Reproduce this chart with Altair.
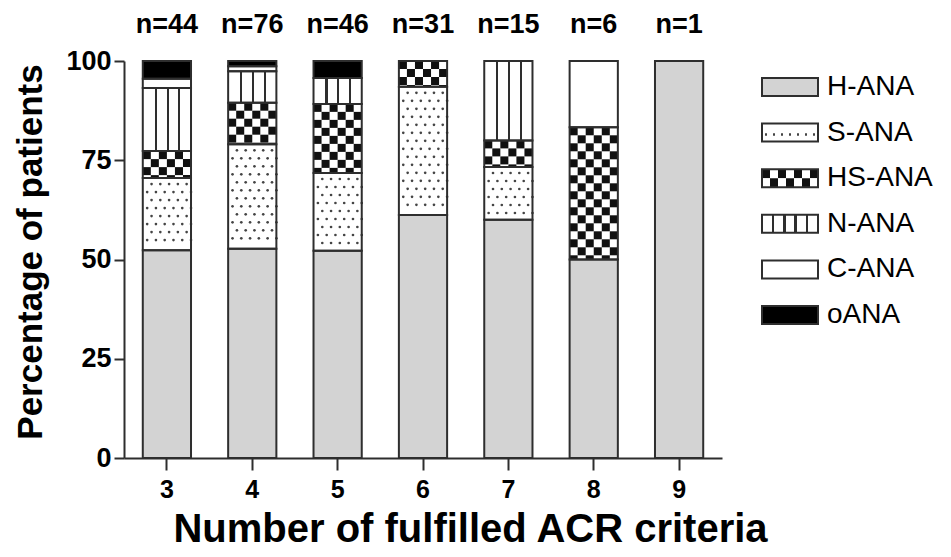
import altair as alt
import pandas as pd

# ---------------- data ----------------
criteria = ["3", "4", "5", "6", "7", "8", "9"]
n_labels = ["n=44", "n=76", "n=46", "n=31", "n=15", "n=6", "n=1"]
series = ["H-ANA", "S-ANA", "HS-ANA", "N-ANA", "C-ANA", "oANA"]

h_ana = [52.3, 52.7, 52.2, 61.2, 60.0, 50.0, 100.0]
s_ana = [18.2, 26.3, 19.6, 32.3, 13.3, 0.0, 0.0]
hs_ana = [6.8, 10.5, 17.4, 6.5, 6.7, 33.3, 0.0]
n_ana = [15.9, 7.9, 6.5, 0.0, 20.0, 0.0, 0.0]
c_ana = [2.3, 1.3, 0.0, 0.0, 0.0, 16.7, 0.0]
o_ana = [4.5, 1.3, 4.3, 0.0, 0.0, 0.0, 0.0]

values = {"H-ANA": h_ana, "S-ANA": s_ana, "HS-ANA": hs_ana,
          "N-ANA": n_ana, "C-ANA": c_ana, "oANA": o_ana}

# ---------------- layout constants ----------------
W, H = 598, 397
PX_PER_PCT = H / 100.0
CELL = 8 / PX_PER_PCT          # checker cell height in % units
DOT_STEP = 8 / PX_PER_PCT      # dot row spacing in % units
FONT = "Liberation Sans"
LINE = "#2e2e2e"
GRAY = "#d3d3d3"

# ---------------- derived tables ----------------
seg_rows = []
for i, c in enumerate(criteria):
    base = 0.0
    for s in series:
        v = values[s][i]
        if v > 0:
            seg_rows.append(dict(criteria=c, series=s, y0=base, y1=base + v))
        base += v
seg = pd.DataFrame(seg_rows)

checker_rows = []
for r in seg[seg.series == "HS-ANA"].itertuples():
    k = 0
    top = r.y1
    while top > r.y0 + 1e-6:
        bot = max(top - CELL, r.y0)
        for col in range(6):
            if (k + col) % 2 == 0:
                checker_rows.append(dict(criteria=r.criteria, col=col, c0=bot, c1=top))
        top = bot
        k += 1
checker = pd.DataFrame(checker_rows)

dot_rows = []
for r in seg[seg.series == "S-ANA"].itertuples():
    k = 0
    yc = r.y1 - 0.75 * DOT_STEP
    while yc > r.y0 + 0.4 * DOT_STEP:
        subs = [2, 4, 6, 8, 10] if k % 2 == 0 else [1, 3, 5, 7, 9, 11]
        for sub in subs:
            dot_rows.append(dict(criteria=r.criteria, sub=sub, yc=yc))
        yc -= DOT_STEP
        k += 1
dots = pd.DataFrame(dot_rows)

labels_df = pd.DataFrame({"criteria": criteria, "label": n_labels,
                          "top": [100.0] * len(criteria)})
legend_df = pd.DataFrame({"series": series})


def GS(o, c):
    return alt.GradientStop(offset=max(0.0, min(1.0, o)), color=c)


def vstripes(centers, half, color, bg="white"):
    stops = [GS(0, bg)]
    for c in centers:
        stops += [GS(c - half, bg), GS(c - half, color), GS(c + half, color), GS(c + half, bg)]
    stops.append(GS(1, bg))
    return alt.LinearGradient(gradient="linear", stops=stops, x1=0, x2=1, y1=0, y2=0)


def cells(n, start_black):
    stops = []
    for k in range(n):
        col = "#111111" if (k % 2 == 0) == start_black else "white"
        stops += [GS(k / n, col), GS((k + 1) / n, col)]
    return alt.LinearGradient(gradient="linear", stops=stops, x1=0, x2=1, y1=0, y2=0)


N_GRAD = vstripes([0.27, 0.515, 0.76], 0.022, LINE)
N_LEG_GRAD = vstripes([0.2, 0.4, 0.6, 0.8], 0.02, LINE)
S_LEG_GRAD = vstripes([(k + 0.5) / 7 for k in range(7)], 0.022, "#444444")

# ---------------- scales / axes ----------------
xscale = alt.Scale(domain=criteria, paddingInner=0.435, paddingOuter=0.22)
yscale = alt.Scale(domain=[0, 100], nice=False, zero=True)

x_axis = alt.Axis(title="Number of fulfilled ACR criteria", labelAngle=0,
                  labelFont=FONT, labelFontSize=25, labelFontWeight="bold",
                  labelColor="black", labelPadding=7,
                  tickSize=12, tickWidth=2, tickColor=LINE,
                  domainColor=LINE, domainWidth=2,
                  titleFont=FONT, titleFontSize=40, titleFontWeight="bold",
                  titleColor="black", titleX=346, titleY=83,
                  titleBaseline="alphabetic", titleAlign="center")
y_axis = alt.Axis(title="Percentage of patients", values=[0, 25, 50, 75, 100],
                  labelFont=FONT, labelFontSize=27, labelFontWeight="bold",
                  labelColor="black", labelPadding=3,
                  tickSize=10, tickWidth=2, tickColor=LINE,
                  domainColor=LINE, domainWidth=2, grid=False,
                  titleFont=FONT, titleFontSize=35, titleFontWeight="bold",
                  titleColor="black", titleAngle=-90, titleX=-94, titleY=H / 2 - 8,
                  titleAlign="center", titleBaseline="middle")


def X():
    return alt.X("criteria:N", scale=xscale, axis=x_axis)


def Y(field):
    return alt.Y(field, scale=yscale, axis=y_axis)


color_scale = alt.Scale(domain=series,
                        range=[GRAY, "white", "white", "white", "white", "#000000"])

base = alt.Chart(seg).mark_rect(strokeWidth=0).encode(
    x=X(), y=Y("y0:Q"), y2="y1:Q",
    color=alt.Color("series:N", scale=color_scale, legend=None))

n_layer = alt.Chart(seg).transform_filter(alt.datum.series == "N-ANA").mark_rect(
    fill=N_GRAD, strokeWidth=0).encode(x=X(), y=Y("y0:Q"), y2="y1:Q")

check_layer = alt.Chart(checker).mark_rect(fill="#111111", strokeWidth=0).encode(
    x=X(), y=Y("c0:Q"), y2="c1:Q",
    xOffset=alt.XOffset("col:O", scale=alt.Scale(domain=list(range(6)),
                                                 paddingInner=0, paddingOuter=0)))

dot_layer = alt.Chart(dots).mark_circle(size=7, color="#444444", opacity=1).encode(
    x=X(), y=Y("yc:Q"),
    xOffset=alt.XOffset("sub:O", scale=alt.Scale(domain=list(range(12)),
                                                 paddingInner=0, paddingOuter=0)))

outline = alt.Chart(seg).mark_rect(fillOpacity=0, stroke=LINE, strokeWidth=2).encode(
    x=X(), y=Y("y0:Q"), y2="y1:Q")

text_layer = alt.Chart(labels_df).mark_text(
    font=FONT, fontSize=27, fontWeight="bold", color="black",
    baseline="alphabetic", dy=-28).encode(x=X(), y=Y("top:Q"), text="label:N")

main = alt.layer(base, n_layer, check_layer, dot_layer, outline, text_layer
                 ).resolve_scale(xOffset="independent")

# ---------------- hand-made legend ----------------
LEG_X0, LEG_X1, LEG_TX = 638, 694, 703
ly = alt.Y("series:N", sort=series, axis=None,
           scale=alt.Scale(range=[3.2, 276.8], paddingInner=0, paddingOuter=0))
lx = dict(x=alt.value(LEG_X0), x2=alt.value(LEG_X1))

leg_base = alt.Chart(legend_df).mark_rect(height=18, strokeWidth=0).encode(
    y=ly, color=alt.Color("series:N", scale=color_scale, legend=None), **lx)
leg_n = alt.Chart(legend_df).transform_filter(alt.datum.series == "N-ANA").mark_rect(
    height=18, fill=N_LEG_GRAD, strokeWidth=0).encode(y=ly, **lx)
leg_s = alt.Chart(legend_df).transform_filter(alt.datum.series == "S-ANA").mark_rect(
    height=2.5, yOffset=2, fill=S_LEG_GRAD, strokeWidth=0).encode(y=ly, **lx)
leg_hs1 = alt.Chart(legend_df).transform_filter(alt.datum.series == "HS-ANA").mark_rect(
    height=9, yOffset=-4.5, fill=cells(7, True), strokeWidth=0).encode(y=ly, **lx)
leg_hs2 = alt.Chart(legend_df).transform_filter(alt.datum.series == "HS-ANA").mark_rect(
    height=9, yOffset=4.5, fill=cells(7, False), strokeWidth=0).encode(y=ly, **lx)
leg_out = alt.Chart(legend_df).mark_rect(height=18, fillOpacity=0, stroke=LINE,
                                         strokeWidth=2).encode(y=ly, **lx)
leg_text = alt.Chart(legend_df).mark_text(
    font=FONT, fontSize=28, align="left", baseline="middle", color="black").encode(
    y=ly, x=alt.value(LEG_TX), text="series:N")

legend = alt.layer(leg_base, leg_n, leg_s, leg_hs1, leg_hs2, leg_out, leg_text)

chart = alt.layer(main, legend).resolve_scale(y="independent").properties(
    width=W, height=H,
    autosize=alt.AutoSizeParams(type="none"),
    padding={"left": 116, "top": 53, "right": 221, "bottom": 91},
    background="white",
).configure_view(stroke=None)

chart.save("out.html", embed_options={"renderer": "svg", "actions": False})
